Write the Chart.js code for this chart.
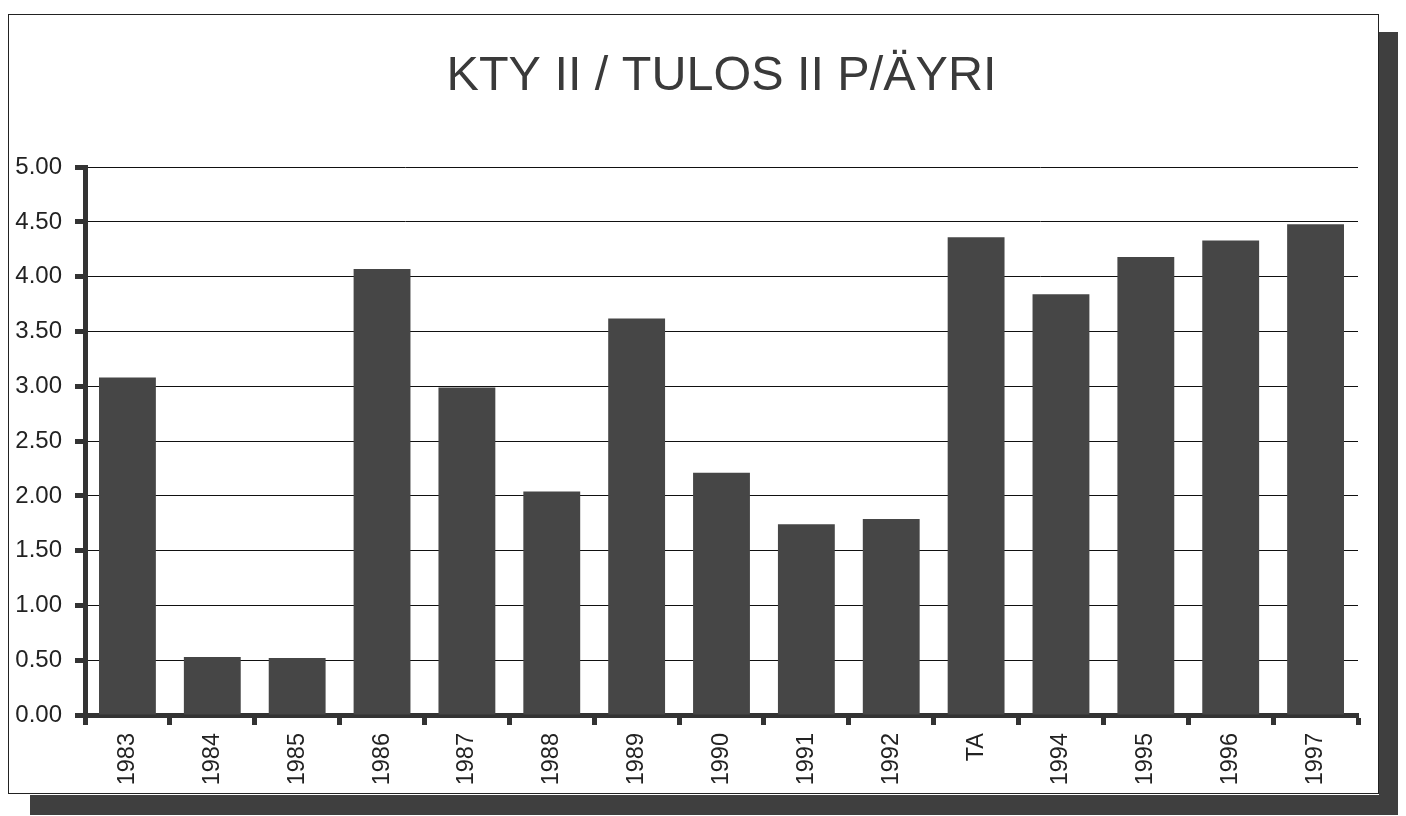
<!DOCTYPE html>
<html>
<head>
<meta charset="utf-8">
<script src="https://cdn.jsdelivr.net/npm/chart.js@4.4.1/dist/chart.umd.min.js"></script>
<style>
  html, body { margin: 0; padding: 0; background: #fff; }
  body { width: 1406px; height: 816px; position: relative; overflow: hidden; }
  #shadowR { position: absolute; left: 1379px; top: 32px; width: 19px; height: 783px; background: #3f3f3f; }
  #shadowB { position: absolute; left: 30px; top: 795px; width: 1368px; height: 20px; background: #3f3f3f; }
  #box { position: absolute; left: 8px; top: 14px; width: 1369px; height: 778px; border: 1px solid #222; background: #fff; }
  #wrap { position: absolute; left: 0; top: 0; width: 1369px; height: 778px; }
</style>
</head>
<body>
<div id="shadowR"></div>
<div id="shadowB"></div>
<div id="box"><div id="wrap"><canvas id="earningsChart"></canvas></div></div>
<script>
const labels = ["1983", "1984", "1985", "1986", "1987", "1988", "1989", "1990",
  "1991", "1992", "TA", "1994", "1995", "1996", "1997"];
const values = [3.08, 0.53, 0.52, 4.07, 2.99, 2.04, 3.62, 2.21,
  1.74, 1.79, 4.36, 3.84, 4.18, 4.33, 4.48];
const yTicks = [0, 0.5, 1, 1.5, 2, 2.5, 3, 3.5, 4, 4.5, 5];

const ctx = document.getElementById("earningsChart").getContext("2d");

const chart = new Chart(ctx, {
  type: "bar",
  data: {
    labels: labels,
    datasets: [{
      label: "Tulos / osake",
      data: values,
      backgroundColor: "#464646",
      borderWidth: 0,
      barPercentage: 0.67,
      categoryPercentage: 1
    }]
  },
  options: {
    responsive: true,
    maintainAspectRatio: false,
    animation: false,
    layout: { padding: { left: 0, right: 20, top: 0, bottom: 0 } },
    plugins: {
      legend: { display: false },
      tooltip: { enabled: false },
      title: {
        display: true,
        fullSize: false, // centre over the plot, not the whole box
        text: "KTY II / TULOS II P/ÄYRI",
        color: "#3a3a3a",
        font: { family: "Liberation Sans, Arial, sans-serif", size: 48.5, weight: "normal" },
        padding: { top: 33, bottom: 61 }
      }
    },
    scales: {
      x: {
        offset: true,
        border: { display: true, color: "#333", width: 5 },
        grid: {
          offset: true,
          drawOnChartArea: false,
          drawTicks: true,
          tickLength: 10,
          tickWidth: 5,
          tickColor: "#333"
        },
        ticks: {
          color: "#222",
          minRotation: 90,
          maxRotation: 90,
          padding: 8,
          font: { family: "Liberation Sans, Arial, sans-serif", size: 23.5 }
        },
        afterFit: (scale) => { scale.height = 78; }
      },
      y: {
        min: 0,
        max: 5,
        border: { display: true, color: "#333", width: 5 },
        grid: {
          color: "#111",
          lineWidth: 1,
          tickLength: 10,
          tickWidth: 5,
          tickColor: "#333"
        },
        afterBuildTicks: (scale) => {
          scale.ticks = yTicks.map(v => ({ value: v }));
        },
        ticks: {
          color: "#222",
          padding: 13,
          font: { family: "Liberation Sans, Arial, sans-serif", size: 24 },
          callback: (v) => Number(v).toFixed(2)
        },
        afterFit: (scale) => { scale.width = 76; }
      }
    }
  }
});
</script>
</body>
</html>
